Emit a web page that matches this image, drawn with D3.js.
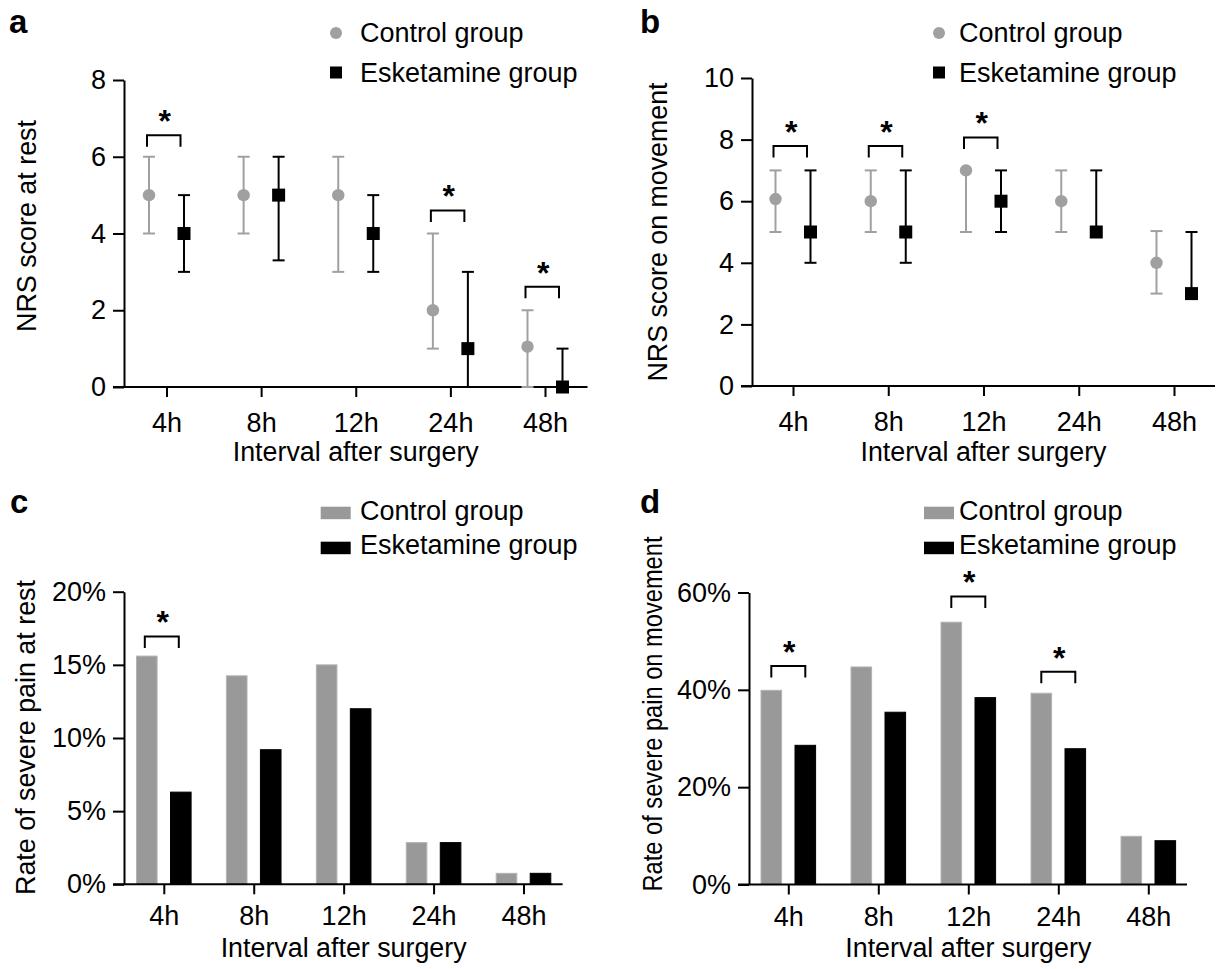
<!DOCTYPE html>
<html>
<head>
<meta charset="utf-8">
<script src="https://cdn.jsdelivr.net/npm/d3@7"></script>
<style>
  body { margin: 0; background: #fff; }
  svg text { font-family: "Liberation Sans", Arial, Helvetica, sans-serif; fill: #000; }
</style>
</head>
<body>
<svg id="fig" width="1217" height="969"></svg>
<script>
var intervals = ["4h", "8h", "12h", "24h", "48h"];
var groups = ["Control group", "Esketamine group"];

// a: NRS at rest, median with range
var restControl   = [5, 5, 5, 2, 1.05];
var restControlLo = [4, 4, 3, 1, 0];
var restControlHi = [6, 6, 6, 4, 2];
var restEsket     = [4, 5, 4, 1, 0];
var restEsketLo   = [3, 3.3, 3, 0, 0];
var restEsketHi   = [5, 6, 5, 3, 1];
var restSig       = [6.56, null, null, 4.6, 2.61];   // bracket height where p<0.05
var restTicks     = [0, 2, 4, 6, 8];

// b: NRS on movement
var moveControl   = [6.07, 6, 7, 6, 4];
var moveControlLo = [5, 5, 5, 5, 3];
var moveControlHi = [7, 7, 7, 7, 5.03];
var moveEsket     = [5, 5, 6, 5, 3];
var moveEsketLo   = [4, 4, 5, 5, 3];
var moveEsketHi   = [7, 7, 7, 7, 5];
var moveSig       = [7.79, 7.79, 8.07, null, null];
var moveTicks     = [0, 2, 4, 6, 8, 10];

// c: rate of severe pain at rest (%)
var severeRestControl = [15.6, 14.25, 15.0, 2.85, 0.75];
var severeRestEsket   = [6.3, 9.2, 12.0, 2.85, 0.75];
var severeRestSig     = [16.94, null, null, null, null];
var severeRestTicks   = [0, 5, 10, 15, 20];

// d: rate of severe pain on movement (%)
var severeMoveControl = [39.9, 44.7, 53.9, 39.3, 9.9];
var severeMoveEsket   = [28.6, 35.4, 38.4, 27.9, 9.0];
var severeMoveSig     = [44.9, null, 59.2, 43.7, null];
var severeMoveTicks   = [0, 20, 40, 60];

var GREY = "#a0a0a0";
var BAR_GREY = "#999999";
var FONT = 27;

var svg = d3.select("#fig");

/////////////////////////////////////////////////
// axes, labels, titles shared by all four panels
function frame(p) {
  var g = svg.append("g");
  var x = d3.scalePoint().domain(intervals).range([p.first, p.last]);
  var y = d3.scaleLinear().domain([0, p.ticks[p.ticks.length - 1]]).range([p.bottom, p.top]);

  var ya = g.append("g")
    .attr("transform", "translate(" + p.axisX + ",0)")
    .call(d3.axisLeft(y).tickValues(p.ticks).tickFormat(p.fmt)
      .tickSize(11).tickSizeOuter(0).tickPadding(7));
  ya.attr("font-size", FONT);

  // x baseline runs out under the y ticks
  g.append("line")
    .attr("x1", p.left).attr("x2", p.right)
    .attr("y1", p.bottom).attr("y2", p.bottom)
    .attr("stroke", "#000");
  var xa = g.append("g")
    .attr("transform", "translate(0," + p.bottom + ")")
    .call(d3.axisBottom(x).tickSize(10).tickPadding(p.xPad));
  xa.select(".domain").remove();
  xa.attr("font-size", FONT);

  g.selectAll("path, line").attr("stroke-width", 2);

  g.append("text")
    .attr("x", (p.first + p.last) / 2).attr("y", p.titleY)
    .attr("text-anchor", "middle").attr("font-size", FONT)
    .attr("textLength", 246).attr("lengthAdjust", "spacingAndGlyphs")
    .text("Interval after surgery");

  g.append("text")
    .attr("transform", "translate(" + p.yTitleX + "," + p.yTitleY + ") rotate(-90)")
    .attr("text-anchor", "middle").attr("font-size", FONT)
    .attr("textLength", p.yTitleLen).attr("lengthAdjust", "spacingAndGlyphs")
    .text(p.yTitle);

  svg.append("text")
    .attr("x", p.lx).attr("y", p.ly)
    .attr("font-size", 33).attr("font-weight", "bold")
    .text(p.label);

  g.append("g").selectAll("text")
    .data(groups).join("text")
    .attr("x", p.legTextX)
    .attr("y", function(d, i) { return p.legBase[i]; })
    .attr("font-size", FONT)
    .text(function(d) { return d; });

  return { g: g, x: x, y: y };
}

function brackets(f, sig, off0, off1) {
  sig.forEach(function(v, i) {
    if (v == null) return;
    var x0 = f.x(intervals[i]) + off0;
    var x1 = f.x(intervals[i]) + off1;
    var yt = f.y(v);
    f.g.append("path")
      .attr("d", "M" + x0 + "," + (yt + 11.5) + "V" + yt + "H" + x1 + "V" + (yt + 11.5))
      .attr("fill", "none")
      .attr("stroke", "#000")
      .attr("stroke-width", 2);
    f.g.append("text")
      .attr("x", (x0 + x1) / 2 + 1).attr("y", yt - 3)
      .attr("text-anchor", "middle")
      .attr("font-size", 32).attr("font-weight", "bold")
      .text("*");
  });
}

/////////////////////////////////////////////////
// median + range panels
function dotPanel(p, series, sig) {
  var f = frame(p);
  var inner = d3.scalePoint().domain([0, 1]).range([-17.5, 17.5]);

  series.forEach(function(s, si) {
    var sg = f.g.append("g").attr("stroke", s.colour).attr("stroke-width", 2);
    var cx = function(d, i) { return f.x(intervals[i]) + inner(si); };
    sg.selectAll("line.bar").data(s.med).join("line")
      .attr("class", "bar")
      .attr("x1", cx).attr("x2", cx)
      .attr("y1", function(d, i) { return f.y(s.lo[i]); })
      .attr("y2", function(d, i) { return f.y(s.hi[i]); });
    [s.lo, s.hi].forEach(function(end) {
      sg.append("g").selectAll("line").data(end).join("line")
        .attr("x1", function(d, i) { return cx(d, i) - 6; })
        .attr("x2", function(d, i) { return cx(d, i) + 6; })
        .attr("y1", function(d) { return f.y(d); })
        .attr("y2", function(d) { return f.y(d); });
    });
  });

  // markers on top of the whiskers
  f.g.append("g").selectAll("circle").data(series[0].med).join("circle")
    .attr("cx", function(d, i) { return f.x(intervals[i]) + inner(0); })
    .attr("cy", function(d) { return f.y(d); })
    .attr("r", 6.2)
    .attr("fill", GREY);
  f.g.append("g").selectAll("rect").data(series[1].med).join("rect")
    .attr("x", function(d, i) { return f.x(intervals[i]) + inner(1) - 6.5; })
    .attr("y", function(d) { return f.y(d) - 6.5; })
    .attr("width", 13).attr("height", 13)
    .attr("fill", "#000");

  // legend
  svg.append("circle")
    .attr("cx", p.legX).attr("cy", p.legY[0]).attr("r", 6)
    .attr("fill", GREY);
  svg.append("rect")
    .attr("x", p.legX - 6).attr("y", p.legY[1] - 6)
    .attr("width", 12).attr("height", 12)
    .attr("fill", "#000");

  brackets(f, sig, inner(0) - 2, inner(1) - 3.5);
}

/////////////////////////////////////////////////
// rate bar panels
function barPanel(p, control, esket, sig) {
  var f = frame(p);
  var inner = d3.scaleBand().domain([0, 1]).range([-27.3, 27.3]).paddingInner(0.394);
  var vals = [control, esket];
  var fills = [BAR_GREY, "#000"];
  var edges = ["#b4b4b4", "#000"];

  vals.forEach(function(v, si) {
    f.g.insert("g", ":first-child").selectAll("rect").data(v).join("rect")
      .attr("x", function(d, i) { return f.x(intervals[i]) + inner(si); })
      .attr("y", function(d) { return f.y(d); })
      .attr("width", inner.bandwidth())
      .attr("height", function(d) { return p.bottom - f.y(d); })
      .attr("fill", fills[si])
      .attr("stroke", edges[si])
      .attr("stroke-width", 1);
  });

  svg.selectAll(null).data(fills).enter().append("rect")
    .attr("x", p.legX).attr("y", function(d, i) { return p.legY[i]; })
    .attr("width", 30).attr("height", 12.5)
    .attr("fill", function(d) { return d; });

  var bw = inner.bandwidth() / 2;
  brackets(f, sig, inner(0) + bw - p.brShift, inner(1) + bw - p.brShift);
}

var pct = function(d) { return d + "%"; };

dotPanel({
  label: "a", lx: 9, ly: 33,
  axisX: 124, top: 80, bottom: 387, left: 113, right: 587.5,
  first: 166.5, last: 545, ticks: restTicks, fmt: d3.format("d"), xPad: 16,
  titleY: 461, yTitle: "NRS score at rest", yTitleX: 36, yTitleY: 226, yTitleLen: 212,
  legX: 336, legY: [33, 72.5], legTextX: 360, legBase: [42, 82]
}, [
  { med: restControl, lo: restControlLo, hi: restControlHi, colour: GREY },
  { med: restEsket, lo: restEsketLo, hi: restEsketHi, colour: "#000" }
], restSig);

dotPanel({
  label: "b", lx: 640, ly: 33,
  axisX: 752, top: 78, bottom: 386, left: 741, right: 1215,
  first: 793, last: 1174, ticks: moveTicks, fmt: d3.format("d"), xPad: 16,
  titleY: 461, yTitle: "NRS score on movement", yTitleX: 667, yTitleY: 232, yTitleLen: 299,
  legX: 939, legY: [33, 72.5], legTextX: 959, legBase: [42, 82]
}, [
  { med: moveControl, lo: moveControlLo, hi: moveControlHi, colour: GREY },
  { med: moveEsket, lo: moveEsketLo, hi: moveEsketHi, colour: "#000" }
], moveSig);

barPanel({
  label: "c", lx: 10, ly: 513,
  axisX: 124, top: 591.7, bottom: 884.3, left: 113, right: 562.6,
  first: 163.8, last: 523.5, ticks: severeRestTicks, fmt: pct, xPad: 12,
  titleY: 957, yTitle: "Rate of severe pain at rest", yTitleX: 35, yTitleY: 737.5, yTitleLen: 315,
  legX: 320.7, legY: [506.7, 541.7], legTextX: 360, legBase: [520, 554], brShift: 2
}, severeRestControl, severeRestEsket, severeRestSig);

barPanel({
  label: "d", lx: 640, ly: 513,
  axisX: 749, top: 592.5, bottom: 884.5, left: 738, right: 1187,
  first: 788.3, last: 1148.3, ticks: severeMoveTicks, fmt: pct, xPad: 12,
  titleY: 957, yTitle: "Rate of severe pain on movement", yTitleX: 662, yTitleY: 714, yTitleLen: 355,
  legX: 924, legY: [506.7, 541.7], legTextX: 959, legBase: [520, 554], brShift: 0
}, severeMoveControl, severeMoveEsket, severeMoveSig);
</script>
</body>
</html>
